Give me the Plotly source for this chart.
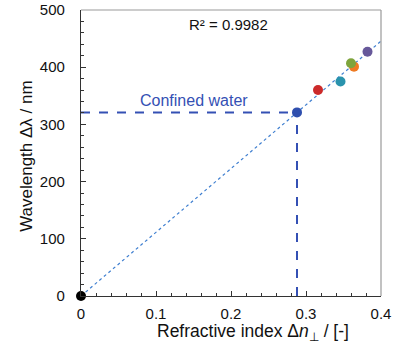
import numpy as np
import plotly.graph_objects as go

# Data
point_x = [0.0, 0.288, 0.316, 0.346, 0.364, 0.360, 0.382]
point_y = [0, 321, 360, 375, 401, 407, 427]
point_colors = ["#000000", "#2f4fae", "#cc2a2a", "#2a93ad", "#ee7a22", "#7ea43c", "#67589a"]
confined_x = 0.288
confined_y = 321
r2_label = "R² = 0.9982"
x_ticks = [0, 0.1, 0.2, 0.3, 0.4]
x_tick_text = ["0", "0.1", "0.2", "0.3", "0.4"]
y_ticks = [0, 100, 200, 300, 400, 500]

xa = np.array(point_x)
ya = np.array(point_y)
slope = float((xa * ya).sum() / (xa * xa).sum())
fit_x = [0.0, 0.4]
fit_y = [slope * v for v in fit_x]

fig = go.Figure()
fig.add_trace(go.Scatter(x=fit_x, y=fit_y, mode="lines",
                         line=dict(color="#3f7fd0", width=1.2, dash="dot"), hoverinfo="skip"))
fig.add_trace(go.Scatter(x=[0, confined_x], y=[confined_y, confined_y], mode="lines",
                         line=dict(color="#3450b4", width=2, dash="dash")))
fig.add_trace(go.Scatter(x=[confined_x, confined_x], y=[0, confined_y], mode="lines",
                         line=dict(color="#3450b4", width=2, dash="dash")))
fig.add_trace(go.Scatter(x=point_x, y=point_y, mode="markers",
                         marker=dict(color=point_colors, size=10), cliponaxis=False))

fig.add_annotation(x=0.197, y=475, text=r2_label, showarrow=False,
                   font=dict(size=15, color="#111"))
fig.add_annotation(x=0.151, y=341, text="Confined water", showarrow=False,
                   font=dict(size=16, color="#3450b4"))

# axis titles as annotations for exact placement
fig.add_annotation(xref="paper", yref="paper", x=0.573, y=0, yanchor="middle", yshift=-36,
                   text="Refractive index Δ<i>n</i><sub>⊥</sub> / [-]", showarrow=False,
                   font=dict(size=17.5, color="#111"))
fig.add_annotation(xref="paper", yref="paper", x=0, xanchor="center", xshift=-54, y=0.49,
                   text="Wavelength Δλ / nm", textangle=-90, showarrow=False,
                   font=dict(size=17, color="#111"))

# grey frame on top and right
fig.add_shape(type="line", xref="paper", yref="paper", x0=0, x1=1, y0=1, y1=1,
              line=dict(color="#999", width=1.2))
fig.add_shape(type="line", xref="paper", yref="paper", x0=1, x1=1, y0=0, y1=1,
              line=dict(color="#999", width=1.2))

axis_common = dict(showline=True, linecolor="#333", linewidth=1.2, mirror=False,
                   ticks="inside", ticklen=5, tickcolor="#333", showgrid=False, zeroline=False,
                   tickfont=dict(size=15, color="#111"), automargin=False)
fig.update_xaxes(range=[0, 0.4], tickvals=x_ticks, ticktext=x_tick_text,
                 minor=dict(dtick=0.02, ticks="inside", ticklen=3, tickcolor="#333"),
                 ticklabelstandoff=4,
                 **axis_common)
fig.update_yaxes(range=[0, 500], tickvals=y_ticks,
                 minor=dict(dtick=20, ticks="inside", ticklen=3, tickcolor="#333"),
                 ticklabelstandoff=12,
                 **axis_common)
fig.update_layout(width=407, height=344, showlegend=False,
                  margin=dict(l=81, r=26, t=10, b=48),
                  plot_bgcolor="white", paper_bgcolor="white",
                  font=dict(family="Liberation Sans, Arial, sans-serif"))
fig.write_html("out.html", config={"displayModeBar": False},
               post_script="document.body.style.margin='0';")
